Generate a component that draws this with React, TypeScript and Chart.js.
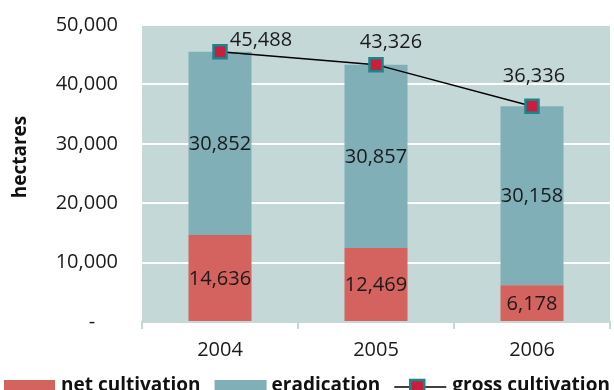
import React, { useEffect, useRef } from "react";
import { Chart, registerables } from "chart.js";

Chart.register(...registerables);

// Hectares under cultivation and eradication by year
const years = ["2004", "2005", "2006"];
const netCultivation = [14636, 12469, 6178];
const eradication = [30852, 30857, 30158];
const grossCultivation = [45488, 43326, 36336];
const yTickValues = [0, 10000, 20000, 30000, 40000, 50000];

// Nudges (px) for the gross cultivation value labels, relative to each marker
const grossLabelNudge = [
  [41, -12],
  [15, -22],
  [2, -30],
];

const FONT = "'Open Sans', 'DejaVu Sans', sans-serif";
const PLOT_BG = "#c5d8d8";
const NET_COLOR = "#d4635f";
const ERAD_COLOR = "#80afb7";
const MARKER_FILL = "#c91f3e";
const MARKER_EDGE = "#15888a";

const fmt = (v: number) => v.toLocaleString("en-US");

const plotBackground = {
  id: "plotBackground",
  beforeDraw(chart: any) {
    const { ctx, chartArea } = chart;
    ctx.save();
    ctx.fillStyle = PLOT_BG;
    ctx.fillRect(chartArea.left, chartArea.top, chartArea.right - chartArea.left, chartArea.bottom - chartArea.top);
    ctx.restore();
  },
};

const valueLabels = {
  id: "valueLabels",
  afterDatasetsDraw(chart: any) {
    const { ctx } = chart;
    ctx.save();
    ctx.font = `20px ${FONT}`;
    ctx.fillStyle = "#1a1a1a";
    ctx.textAlign = "center";
    ctx.textBaseline = "middle";
    // stacked bar segments: label in the middle of each segment
    [0, 1].forEach((di) => {
      const meta = chart.getDatasetMeta(di);
      const values = chart.data.datasets[di].data as number[];
      meta.data.forEach((bar: any, i: number) => {
        const cy = (bar.y + bar.base) / 2;
        ctx.fillText(fmt(values[i]), bar.x, cy + 1);
      });
    });
    // gross cultivation: label above each marker
    const lineMeta = chart.getDatasetMeta(2);
    lineMeta.data.forEach((pt: any, i: number) => {
      const [dx, dy] = grossLabelNudge[i];
      ctx.fillText(fmt(grossCultivation[i]), pt.x + dx, pt.y + dy);
    });
    ctx.restore();
  },
};

const sideAndLegend = {
  id: "sideAndLegend",
  afterDraw(chart: any) {
    const { ctx } = chart;
    ctx.save();
    // y axis title
    ctx.font = `bold 19px ${FONT}`;
    ctx.fillStyle = "#111";
    ctx.textAlign = "center";
    ctx.textBaseline = "middle";
    ctx.translate(21, 157);
    ctx.rotate(-Math.PI / 2);
    ctx.fillText("hectares", 0, 0);
    ctx.restore();

    // legend along the bottom edge
    ctx.save();
    ctx.font = `bold 19px ${FONT}`;
    ctx.fillStyle = "#111";
    ctx.textAlign = "left";
    ctx.textBaseline = "alphabetic";
    const baseline = 391;
    const boxTop = 380;
    let x = 4;
    const items = chart.data.datasets.map((d: any) => d.label);
    // net cultivation
    ctx.fillStyle = NET_COLOR;
    ctx.fillRect(x, boxTop, 51, 16);
    x += 57;
    ctx.fillStyle = "#111";
    ctx.fillText(items[0], x, baseline);
    x += ctx.measureText(items[0]).width + 14;
    // eradication
    ctx.fillStyle = ERAD_COLOR;
    ctx.fillRect(x, boxTop, 52, 16);
    x += 57;
    ctx.fillStyle = "#111";
    ctx.fillText(items[1], x, baseline);
    x += ctx.measureText(items[1]).width + 14;
    // gross cultivation: line with square marker
    const ly = 387;
    ctx.strokeStyle = "#000";
    ctx.lineWidth = 1.5;
    ctx.beginPath();
    ctx.moveTo(x, ly);
    ctx.lineTo(x + 52, ly);
    ctx.stroke();
    ctx.fillStyle = MARKER_FILL;
    ctx.strokeStyle = MARKER_EDGE;
    ctx.lineWidth = 2.5;
    ctx.fillRect(x + 16, ly - 7, 14, 14);
    ctx.strokeRect(x + 16, ly - 7, 14, 14);
    x += 58;
    ctx.fillStyle = "#111";
    ctx.fillText(items[2], x, baseline);
    ctx.restore();
  },
};

export default function App() {
  const canvasRef = useRef<HTMLCanvasElement>(null);

  useEffect(() => {
    if (!canvasRef.current) return;
    const chart = new Chart(canvasRef.current, {
      type: "bar",
      data: {
        labels: years,
        datasets: [
          {
            type: "bar",
            label: "net cultivation",
            data: netCultivation,
            backgroundColor: NET_COLOR,
            stack: "bars",
            order: 2,
            categoryPercentage: 1,
            barPercentage: 0.404,
          },
          {
            type: "bar",
            label: "eradication",
            data: eradication,
            backgroundColor: ERAD_COLOR,
            stack: "bars",
            order: 2,
            categoryPercentage: 1,
            barPercentage: 0.404,
          },
          {
            type: "line",
            label: "gross cultivation",
            data: grossCultivation,
            stack: "gross",
            order: 0,
            borderColor: "#000",
            borderWidth: 1.5,
            pointStyle: "rect",
            pointRadius: 9.2,
            pointBackgroundColor: MARKER_FILL,
            pointBorderColor: MARKER_EDGE,
            pointBorderWidth: 2.5,
            tension: 0,
          } as any,
        ],
      },
      options: {
        responsive: false,
        animation: false,
        layout: { autoPadding: false, padding: { top: 25, right: 4, left: 0, bottom: 0 } },
        plugins: {
          legend: { display: false },
          tooltip: { enabled: false },
        },
        scales: {
          x: {
            stacked: true,
            offset: true,
            grid: {
              offset: true,
              drawOnChartArea: false,
              drawTicks: true,
              tickLength: 7,
              color: "#c5d8d8",
              lineWidth: 2,
            },
            border: { display: true, color: "#c5d8d8", width: 2 },
            ticks: {
              font: { family: FONT, size: 20 },
              color: "#1a1a1a",
              padding: 9,
            },
            afterFit: (s: any) => {
              s.height = 390 - 322;
              s.paddingLeft = 0;
              s.paddingRight = 0;
            },
          },
          y: {
            stacked: true,
            min: 0,
            max: 50000,
            afterBuildTicks: (s: any) => {
              s.ticks = yTickValues.map((v) => ({ value: v }));
            },
            grid: {
              color: "#ffffff",
              lineWidth: 2,
              drawTicks: false,
            },
            border: { display: false },
            ticks: {
              font: { family: FONT, size: 20 },
              color: "#1a1a1a",
              padding: 24,
              callback: (v: any) => (Number(v) === 0 ? "-\u2007\u2007" : fmt(Number(v))),
            },
            afterFit: (s: any) => {
              s.width = 142;
              s.paddingTop = 0;
              s.paddingBottom = 0;
            },
          },
        },
      },
      plugins: [plotBackground, valueLabels, sideAndLegend],
    });
    return () => chart.destroy();
  }, []);

  return (
    <div style={{ position: "absolute", left: 0, top: 0, width: 614, height: 390 }}>
      <canvas ref={canvasRef} width={614} height={390} style={{ display: "block" }} />
    </div>
  );
}
